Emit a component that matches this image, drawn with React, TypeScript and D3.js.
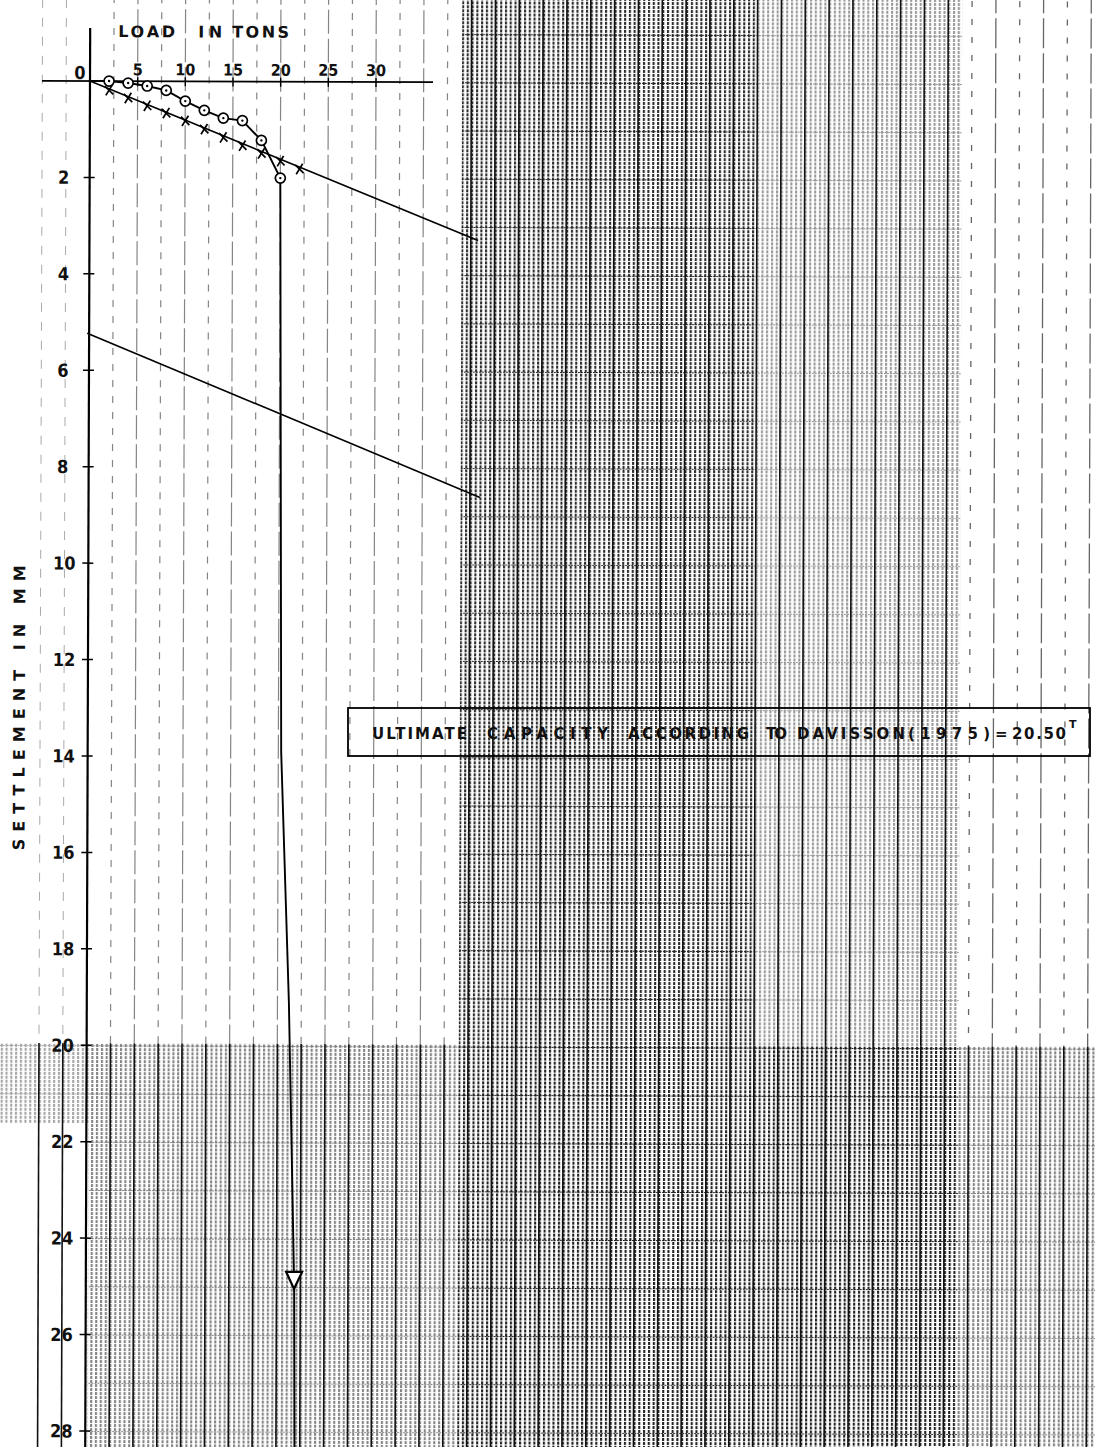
import React from "react";
import * as d3 from "d3";

// Load–settlement test readings (load in tons, settlement in mm)
const testLoads = [0, 2, 4, 6, 8, 10, 12, 14, 16, 18, 20];
const testSettlements = [0, 0, 0.04, 0.1, 0.19, 0.41, 0.6, 0.76, 0.81, 1.22, 2.0];

// Plunging branch after the last reading
const plungeLoads = [20.0, 20.3, 21.2, 21.85, 21.95];
const plungeSettlements = [2.0, 13.9, 19.1, 24.9, 28.6];

// Elastic compression points (crosses)
const elasticLoads = [2, 4, 6, 8, 10, 12, 14, 16, 18, 20, 22];
const elasticSettlements = [0.19, 0.35, 0.51, 0.66, 0.82, 0.99, 1.16, 1.33, 1.49, 1.65, 1.81];

// Elastic line and the Davisson offset line
const elasticLineLoads = [0, 40.76];
const elasticLineSettlements = [0, 3.28];
const offsetLineLoads = [-0.2, 41.05];
const offsetLineSettlements = [5.23, 8.61];

const arrowSettlement = 24.85;

const loadTicks = [5, 10, 15, 20, 25, 30];
const settlementTicks = [2, 4, 6, 8, 10, 12, 14, 16, 18, 20, 22, 24, 26, 28];

const titleXWords = ["LOAD", "IN", "TONS"];
const titleY = "SETTLEMENT IN MM";
const boxWords = ["ULTIMATE", "CAPACITY", "ACCORDING", "TO", "DAVISSON", "(1975)", "=", "20.50"];
const boxSup = "T";

const W = 1095;
const H = 1447;
const FONT = "'DejaVu Sans', sans-serif";
const FONT_NARROW = "'DejaVu Sans Condensed', 'DejaVu Sans', sans-serif";

export default function App() {
  const x = d3.scaleLinear().domain([0, 30]).range([90, 376]);
  const y = d3.scaleLinear().domain([0, 28]).range([81, 1431]);
  const line = d3
    .line<[number, number]>()
    .x((d) => x(d[0]))
    .y((d) => y(d[1]));

  const curvePts: [number, number][] = [
    ...testLoads.map((l, i) => [l, testSettlements[i]] as [number, number]),
    ...plungeLoads.slice(1).map((l, i) => [l, plungeSettlements[i + 1]] as [number, number]),
  ];
  const elasticLine: [number, number][] = elasticLineLoads.map((l, i) => [l, elasticLineSettlements[i]]);
  const offsetLine: [number, number][] = offsetLineLoads.map((l, i) => [l, offsetLineSettlements[i]]);

  const plungeAt = d3.scaleLinear().domain(plungeSettlements).range(plungeLoads);
  const ax = x(plungeAt(arrowSettlement));
  const ay = y(arrowSettlement);

  // graph-paper rulings, one every 2.5 tons
  const rulings = d3.range(-5, 106, 2.5);
  const minor = x(0.5) - x(0);
  const mm = y(1) - y(0);
  const bandTop = y(20) - 2;

  const zones = [
    { x0: 462, x1: 756, y0: -20, y1: bandTop, o: 0.95 },
    { x0: 756, x1: 962, y0: -20, y1: bandTop, o: 0.45 },
    { x0: -20, x1: 92, y0: bandTop, y1: bandTop + 80, o: 0.4 },
    { x0: 92, x1: 462, y0: bandTop, y1: H + 20, o: 0.55 },
    { x0: 462, x1: 962, y0: bandTop, y1: H + 20, o: 1 },
    { x0: 962, x1: W + 20, y0: bandTop, y1: H + 20, o: 0.55 },
  ];

  const rulingStyle = (px: number, i: number) => {
    if (px >= 460 && px <= 964) return { stroke: "#111", w: 1.6, dash: undefined as string | undefined, o: 1 };
    if (px < 88) return { stroke: "#666", w: 1, dash: "9 10", o: 0.55 };
    if (px > 964) return { stroke: "#333", w: 1.3, dash: i % 2 === 0 ? "30 5" : "6 12", o: 0.75 };
    return { stroke: "#444", w: 1.2, dash: i % 2 === 0 ? "24 5" : "7 9", o: 0.65 };
  };

  const boxWordX = [372, 487, 628, 766, 797, 908, 995, 1012];
  const boxWordW = [95, 121, 121, 21, 108, 82, 8, 54];
  const titleWordX = [118, 198, 232];
  const titleWordW = [57, 24, 57];

  return (
    <svg
      width={W}
      height={H}
      viewBox={`0 0 ${W} ${H}`}
      style={{ position: "absolute", left: 0, top: 0, background: "#fff" }}
      fontFamily={FONT}
    >
      <defs>
        <pattern id="cols" patternUnits="userSpaceOnUse" x={x(0)} y={0} width={minor} height={4}>
          <rect x={0} y={0} width={2.1} height={3} fill="#222" />
        </pattern>
        <pattern id="rows" patternUnits="userSpaceOnUse" x={0} y={y(0)} width={3} height={mm}>
          <rect x={0} y={-0.9} width={1.8} height={1.9} fill="#111" />
        </pattern>
      </defs>
      <rect x={0} y={0} width={W} height={H} fill="#fff" />

      <g transform={`rotate(0.2, ${x(0)}, ${y(0)})`}>
        {/* printed screen of the graph paper */}
        {zones.map((z, i) => (
          <g key={i} opacity={z.o}>
            <rect x={z.x0} y={z.y0} width={z.x1 - z.x0} height={z.y1 - z.y0} fill="url(#cols)" />
            <rect x={z.x0} y={z.y0} width={z.x1 - z.x0} height={z.y1 - z.y0} fill="url(#rows)" />
          </g>
        ))}

        {/* main rulings */}
        {rulings.map((r, i) => {
          const px = x(r);
          if (Math.abs(r) < 1e-6) return null;
          const s = rulingStyle(px, i);
          return (
            <g key={r}>
              <line
                x1={px}
                x2={px}
                y1={-20}
                y2={bandTop}
                stroke={s.stroke}
                strokeWidth={s.w}
                strokeDasharray={s.dash}
                opacity={s.o}
              />
              <line x1={px} x2={px} y1={bandTop} y2={H + 20} stroke="#111" strokeWidth={1.6} />
            </g>
          );
        })}

        {/* axes */}
        <line x1={x(0)} x2={x(0)} y1={28} y2={H + 20} stroke="#000" strokeWidth={2.2} />
        <line x1={42} x2={433} y1={y(0)} y2={y(0)} stroke="#000" strokeWidth={1.7} />

        {loadTicks.map((t) => (
          <g key={t}>
            <line x1={x(t)} x2={x(t)} y1={y(0) - 4} y2={y(0) + 5} stroke="#000" strokeWidth={1.4} />
            <text
              x={x(t)}
              y={y(0) - 6}
              fontSize={16}
              fontFamily={FONT_NARROW}
              fontWeight="bold"
              textAnchor="middle"
              fill="#111"
            >
              {t}
            </text>
          </g>
        ))}
        <text x={80} y={y(0) - 2} fontSize={18} fontFamily={FONT_NARROW} fontWeight="bold" textAnchor="middle" fill="#111">
          0
        </text>

        {settlementTicks.map((t) => (
          <g key={t}>
            <line x1={x(0) - 6} x2={x(0) + 5} y1={y(t)} y2={y(t)} stroke="#000" strokeWidth={1.5} />
            <text
              x={t < 10 ? 64 : 66}
              y={y(t)}
              dy="0.36em"
              fontSize={18}
              fontFamily={FONT_NARROW}
              fontWeight="bold"
              textAnchor="middle"
              fill="#111"
            >
              {t}
            </text>
          </g>
        ))}

        {/* titles */}
        <text y={37} fontSize={16} fontWeight="bold" fill="#111">
          {titleXWords.map((w, i) => (
            <tspan key={i} x={titleWordX[i]} textLength={titleWordW[i]} lengthAdjust="spacing">
              {w}
            </tspan>
          ))}
        </text>
        <text
          transform={`translate(27, ${708}) rotate(-90)`}
          fontSize={16}
          fontWeight="bold"
          textAnchor="middle"
          fill="#111"
          textLength={285}
          lengthAdjust="spacing"
        >
          {titleY}
        </text>

        {/* elastic line and offset line */}
        <path d={line(elasticLine) ?? ""} fill="none" stroke="#000" strokeWidth={1.6} />
        <path d={line(offsetLine) ?? ""} fill="none" stroke="#000" strokeWidth={1.6} />

        {/* load–settlement curve */}
        <path d={line(curvePts) ?? ""} fill="none" stroke="#000" strokeWidth={1.9} />

        {elasticLoads.map((l, i) => {
          const cx = x(l);
          const cy = y(elasticSettlements[i]);
          const s = 4.2;
          return (
            <g key={`x${i}`} stroke="#000" strokeWidth={1.7}>
              <line x1={cx - s} x2={cx + s} y1={cy - s} y2={cy + s} />
              <line x1={cx - s + 1} x2={cx + s - 1} y1={cy + s + 1} y2={cy - s - 1} />
            </g>
          );
        })}

        {testLoads.map((l, i) =>
          l === 0 ? null : (
            <g key={`o${i}`}>
              <circle cx={x(l)} cy={y(testSettlements[i])} r={5} fill="#fff" stroke="#000" strokeWidth={1.7} />
              <circle cx={x(l)} cy={y(testSettlements[i])} r={1.2} fill="#000" />
            </g>
          )
        )}

        {/* arrow on the plunging branch */}
        <polygon
          points={`${ax - 8},${ay - 8} ${ax + 8},${ay - 8} ${ax},${ay + 9}`}
          fill="#fff"
          stroke="#000"
          strokeWidth={2.2}
          strokeLinejoin="miter"
        />
      </g>

      {/* result box */}
      <rect x={348} y={708} width={742} height={48} fill="none" stroke="#000" strokeWidth={1.8} />
      <text y={739} fontSize={15} fontWeight="bold" fill="#111">
        {boxWords.map((w, i) => (
          <tspan key={i} x={boxWordX[i]} textLength={boxWordW[i]} lengthAdjust="spacing">
            {w}
          </tspan>
        ))}
      </text>
      <text x={1069} y={728} fontSize={11} fontWeight="bold" fill="#111">
        {boxSup}
      </text>
    </svg>
  );
}
